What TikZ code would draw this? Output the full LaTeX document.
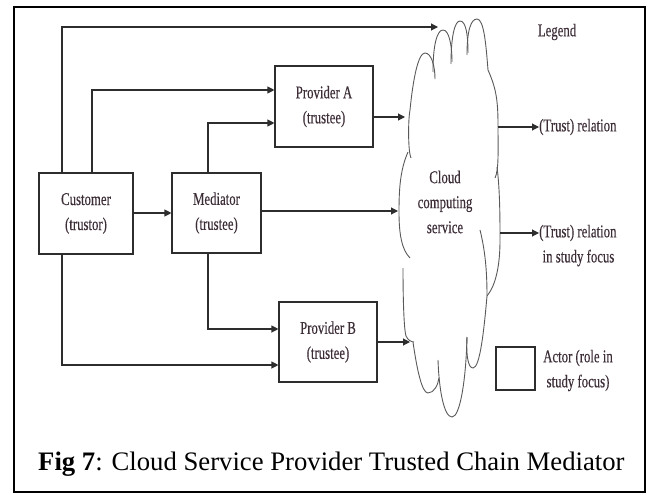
\documentclass[tikz,border=0pt]{standalone}
\usepackage{fontspec}
\setmainfont{Liberation Serif}
\newfontfamily\dfont[FakeStretch=0.71,FakeBold=0.3]{Liberation Serif}
\usetikzlibrary{arrows.meta,calc}
\definecolor{txt}{RGB}{60,45,55}
\definecolor{ln}{RGB}{45,45,45}
\begin{document}
\begin{tikzpicture}[x=1pt,y=-1pt,
  actor/.style={draw=ln,line width=1.1pt,inner sep=0pt,align=center,
    font=\dfont\fontsize{18}{25}\selectfont,text=txt},
  lbl/.style={inner sep=0pt,align=center,font=\dfont\fontsize{18}{25}\selectfont,text=txt},
  wire/.style={draw=ln,line width=1.1pt},
  arr/.style={wire,-{Triangle[length=7pt,width=7pt]}},
  cloudline/.style={draw=black!65,line width=0.9pt}]
\useasboundingbox (0,0) rectangle (653,495);
\draw[line width=2.2pt] (14,7) rectangle (645,492);

% actors
\node[actor,minimum width=94pt,minimum height=81pt] (cust) at (86,213.5) {Customer\\(trustor)};
\node[actor,minimum width=89pt,minimum height=80pt] (med) at (216.5,213) {Mediator\\(trustee)};
\node[actor,minimum width=98pt,minimum height=81pt] (pa) at (324,106.5) {Provider A\\(trustee)};
\node[actor,minimum width=98pt,minimum height=80pt] (pb) at (328,342) {Provider B\\(trustee)};

% cloud
\draw[cloudline] (411,158) .. controls (408,152) and (408,120) .. (410,110)
  .. controls (413,80) and (418,53) .. (425,53) .. controls (431,53) and (435,65) .. (435,79);
\draw[cloudline] (433,72) .. controls (433,45) and (437,30) .. (443,30)
  .. controls (449,30) and (452,45) .. (452,62);
\draw[cloudline] (451,64) .. controls (451,35) and (455,21) .. (460,21)
  .. controls (466,21) and (468,35) .. (468,53);
\draw[cloudline] (467,55) .. controls (467,30) and (471,19) .. (477,19)
  .. controls (484,19) and (486,45) .. (488,70)
  .. controls (496,88) and (498,100) .. (498,125)
  .. controls (498,150) and (499,170) .. (495,178);
\draw[cloudline] (497,167) .. controls (500,190) and (500,220) .. (500,240)
  .. controls (500,265) and (496,285) .. (487,296)
  .. controls (484,330) and (480,368) .. (473,368)
  .. controls (468,368) and (466,355) .. (467,337);
\draw[cloudline] (480,230) .. controls (485,250) and (487,270) .. (487,296);
\draw[cloudline] (467,337) .. controls (466,380) and (460,417) .. (452,417)
  .. controls (444,417) and (439,390) .. (438,360);
\draw[cloudline] (413,342) .. controls (417,370) and (422,393) .. (428,393)
  .. controls (434,393) and (438,385) .. (439,378);
\draw[cloudline] (403,268) .. controls (403,300) and (404,330) .. (406,336)
  .. controls (408,340) and (411,342) .. (414,342);
\draw[cloudline] (408,152) .. controls (400,170) and (399,190) .. (399,212)
  .. controls (399,235) and (402,250) .. (410,258);
\node[lbl] (cloud) at (445,202) {Cloud\\computing\\service};

\coordinate (ctop) at (438,27);
\coordinate (cmed) at (398,211);
\coordinate (cpa) at (405,117);
\coordinate (cpb) at (410,342);
\coordinate (cr1) at (498,127);
\coordinate (cr2) at (500,233);

% legend
\node[lbl] (legend) at (557,32) {Legend};
\node[lbl,anchor=west] (leg1) at (539,127) {(Trust) relation};
\node[lbl,anchor=west] (leg2) at (539,233) {(Trust) relation};
\node[lbl] (leg2b) at (578.5,258) {in study focus};
\node[actor,minimum width=39pt,minimum height=43pt] (legbox) at (515.5,368.5) {};
\node[lbl] (legact) at (578,370.5) {Actor (role in\\study focus)};

% connectors
\draw[arr] (62,0 |- cust.north) |- (ctop);
\draw[arr] (92,0 |- cust.north) |- (pa.west |- 0,90);
\draw[arr] (208,0 |- med.north) |- (pa.west |- 0,123);
\draw[arr] (cust.east |- 0,213) -- (med.west |- 0,213);
\draw[arr] (med.east |- 0,211) -- (cmed);
\draw[arr] (pa.east |- 0,117) -- (cpa);
\draw[arr] (208,0 |- med.south) |- (pb.west |- 0,329);
\draw[arr] (62,0 |- cust.south) |- (pb.west |- 0,365);
\draw[arr] (pb.east |- 0,342) -- (cpb);
\draw[arr] (cr1) -- (leg1.west);
\draw[arr] (cr2) -- (leg2.west);

% caption
\node[anchor=base west,inner sep=0pt,font=\fontsize{26.7}{30}\selectfont] (cap) at (38,470)
  {\textbf{Fig 7}: Cloud Service Provider Trusted Chain Mediator};
\end{tikzpicture}
\end{document}
